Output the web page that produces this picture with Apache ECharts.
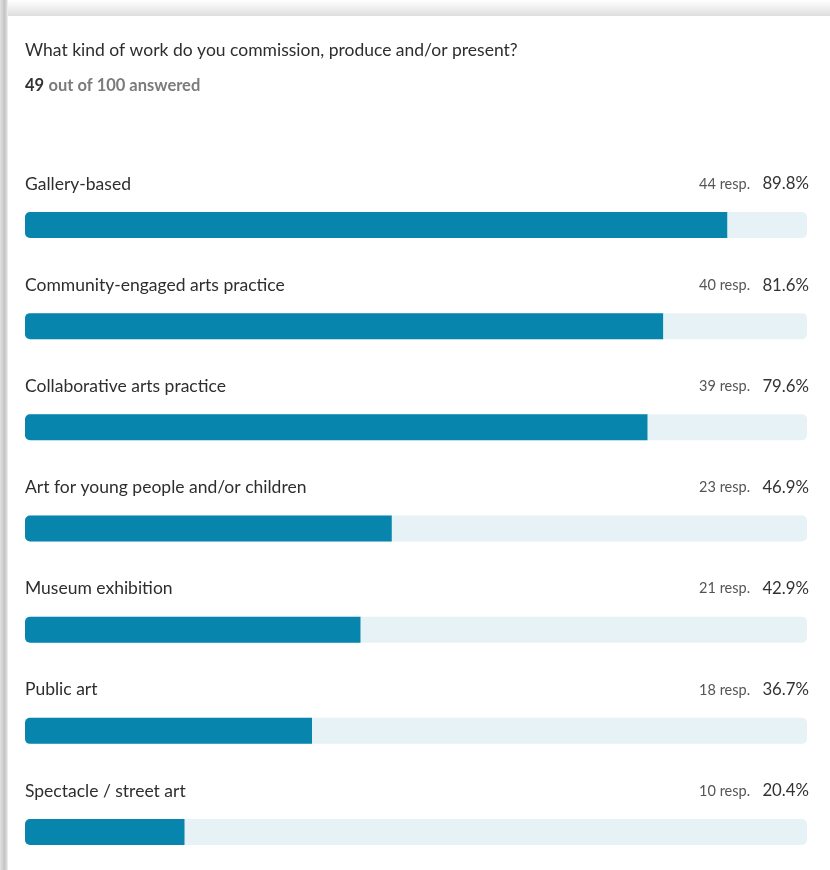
<!DOCTYPE html>
<html>
<head>
<meta charset="utf-8">
<script src="https://cdn.jsdelivr.net/npm/echarts@6/dist/echarts.min.js"></script>
<style>
  html, body { margin: 0; padding: 0; background: #ffffff; }
  #wrap { position: relative; width: 830px; height: 870px; overflow: hidden; background: #ffffff; }
  /* soft drop shadow around the survey card */
  #shadowTop { position: absolute; left: 0; top: 0; width: 830px; height: 16px;
    background: linear-gradient(to bottom, #ffffff 0%, #f1f1f1 45%, #dedede 100%); }
  #shadowLeft { position: absolute; left: 0; top: 0; width: 8px; height: 870px;
    background: linear-gradient(to right, #e2e2e2 0%, #c4c4c4 55%, #d6d6d6 80%, #f4f4f4 100%); }
  #card { position: absolute; left: 8px; top: 16px; width: 822px; height: 854px; background: #ffffff; }
  #chart { position: absolute; left: 0; top: 0; width: 830px; height: 870px; }
</style>
</head>
<body>
<div id="wrap">
  <div id="shadowTop"></div>
  <div id="shadowLeft"></div>
  <div id="card"></div>
  <div id="chart"></div>
</div>
<script>
// Survey question and answer options
const question = 'What kind of work do you commission, produce and/or present?';
const answeredCount = 49;
const totalCount = 100;
const categories = [
  'Gallery-based',
  'Community-engaged arts practice',
  'Collaborative arts practice',
  'Art for young people and/or children',
  'Museum exhibition',
  'Public art',
  'Spectacle / street art'
];
// Number of respondents who picked each option
const responses = [44, 40, 39, 23, 21, 18, 10];
// Share of respondents (percent) for each option
const percents = [89.8, 81.6, 79.6, 46.9, 42.9, 36.7, 20.4];
// Full-scale track behind each bar
const trackFull = categories.map(() => 100);

const FONT = 'Lato, "Noto Sans", sans-serif';

const chart = echarts.init(document.getElementById('chart'), null, { renderer: 'canvas' });

chart.setOption({
  backgroundColor: 'transparent',
  animation: false,
  textStyle: { fontFamily: FONT },
  title: [
    {
      text: question,
      left: 25,
      top: 41,
      padding: 0,
      textStyle: { fontFamily: FONT, fontSize: 17.5, fontWeight: 'normal', color: '#2e2e2e' }
    },
    {
      text: '{n|' + answeredCount + '} {t|out of ' + totalCount + ' answered}',
      left: 25,
      top: 77,
      padding: 0,
      textStyle: {
        rich: {
          n: { fontFamily: FONT, fontSize: 16.5, color: '#333333' },
          t: { fontFamily: FONT, fontSize: 16.5, color: '#7b7b7b' }
        }
      }
    }
  ],
  // the last row runs slightly past the bottom edge, so the grid may extend beyond the canvas
  grid: { left: 25, right: 23, top: 174.4, height: 708.2, containLabel: false, outerBoundsMode: 'none' },
  xAxis: {
    type: 'value',
    min: 0,
    max: 100,
    show: false
  },
  yAxis: {
    type: 'category',
    data: categories,
    inverse: true,
    show: false
  },
  series: [
    {
      name: 'track',
      type: 'bar',
      data: trackFull,
      barWidth: 26,
      barGap: '-100%',
      silent: true,
      itemStyle: { color: '#e6f2f6', borderRadius: 5 },
      label: {
        show: true,
        position: ['100%', -28],
        offset: [2, 0],
        align: 'right',
        verticalAlign: 'middle',
        formatter: (p) => '{r|' + responses[p.dataIndex] + ' resp.}    {p|' + percents[p.dataIndex].toFixed(1) + '%}',
        rich: {
          r: { fontFamily: FONT, fontSize: 14.5, color: '#555555' },
          p: { fontFamily: FONT, fontSize: 16.8, color: '#333333' }
        }
      },
      z: 1
    },
    {
      name: 'share',
      type: 'bar',
      data: percents,
      barWidth: 26,
      barGap: '-100%',
      itemStyle: { color: '#0785ad', borderRadius: [5, 0, 0, 5] },
      label: {
        show: true,
        position: [0, -28],
        align: 'left',
        verticalAlign: 'middle',
        formatter: '{b}',
        fontFamily: FONT,
        fontSize: 17.5,
        color: '#2e2e2e'
      },
      z: 2
    }
  ]
});
</script>
</body>
</html>
